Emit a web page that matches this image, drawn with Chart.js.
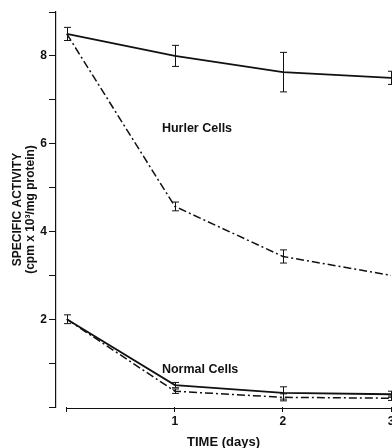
<!DOCTYPE html>
<html lang="en">
<head>
    <meta charset="UTF-8">
    <title>Specific activity vs time</title>
    <script src="https://cdn.jsdelivr.net/npm/chart.js"></script>
    <style>
        body {
            margin: 0;
            overflow: hidden;
            background: #fff;
        }

        .chart-box {
            width: 398px;
            height: 448px;
        }
    </style>
</head>
<body>

<div class="chart-box">
    <canvas id="myChart"></canvas>
</div>

<script>
    // values (days, cpm x 10^3 / mg protein)
    const days = [0, 1, 2, 3];
    const hurlerSolid = [8.5, 8.0, 7.63, 7.5];
    const hurlerSolidErr = [0.15, 0.24, 0.45, 0.15];
    const hurlerDash = [8.5, 4.57, 3.43, 3.0];
    const hurlerDashErr = [0, 0.1, 0.15, 0];
    const normalSolid = [2.0, 0.5, 0.32, 0.29];
    const normalSolidErr = [0.1, 0.06, 0.14, 0.07];
    const normalDash = [2.0, 0.36, 0.22, 0.2];
    const normalDashErr = [0, 0.05, 0.08, 0.05];
    const xTickLabels = ['', '1', '2', '3'];
    const yTickLabels = ['', '', '2', '', '4', '', '6', '', '8', ''];

    const family = '"Liberation Sans", Arial, sans-serif';
    const tickFont = { family: family, size: 12, weight: 'bold' };

    function points(ys) {
        return days.map((d, i) => ({ x: d, y: ys[i] }));
    }

    function series(ys, errs, dashed) {
        return {
            data: points(ys),
            errors: errs,
            borderColor: '#111',
            borderWidth: dashed ? 1.5 : 1.8,
            borderDash: dashed ? [8, 3, 2, 3] : [],
            pointRadius: 0,
            tension: 0,
            fill: false
        };
    }

    // error bars, x axis line and the two text labels
    const extras = {
        id: 'extras',
        afterDatasetsDraw(chart) {
            const c = chart.ctx;
            const xs = chart.scales.x;
            const ys = chart.scales.y;
            c.save();
            c.strokeStyle = '#111';
            c.lineWidth = 1;
            chart.data.datasets.forEach(ds => {
                ds.data.forEach((p, i) => {
                    const e = ds.errors[i];
                    if (!e) return;
                    const px = Math.round(xs.getPixelForValue(p.x)) + 0.5;
                    const top = ys.getPixelForValue(p.y + e);
                    const bot = ys.getPixelForValue(p.y - e);
                    c.beginPath();
                    c.moveTo(px, top);
                    c.lineTo(px, bot);
                    c.moveTo(px - 3.5, top);
                    c.lineTo(px + 3.5, top);
                    c.moveTo(px - 3.5, bot);
                    c.lineTo(px + 3.5, bot);
                    c.stroke();
                });
            });

            // x axis line only runs from day 0 to day 3
            const y0 = Math.round(ys.getPixelForValue(0)) + 1.5;
            c.lineWidth = 1.2;
            c.beginPath();
            c.moveTo(xs.getPixelForValue(0), y0);
            c.lineTo(xs.getPixelForValue(3), y0);
            c.stroke();

            c.fillStyle = '#111';
            c.font = 'bold 12.5px ' + family;
            c.textBaseline = 'middle';
            c.fillText('Hurler Cells', xs.getPixelForValue(0.88), ys.getPixelForValue(6.34));
            c.fillText('Normal Cells', xs.getPixelForValue(0.88), ys.getPixelForValue(0.85));
            c.restore();
        }
    };

    const ctx = document.getElementById('myChart').getContext('2d');

    new Chart(ctx, {
        type: 'line',
        data: {
            datasets: [
                series(hurlerSolid, hurlerSolidErr, false),
                series(hurlerDash, hurlerDashErr, true),
                series(normalSolid, normalSolidErr, false),
                series(normalDash, normalDashErr, true)
            ]
        },
        options: {
            responsive: true,
            maintainAspectRatio: false,
            animation: false,
            layout: { padding: { top: 12, right: 7 } },
            plugins: {
                legend: { display: false },
                tooltip: { enabled: false }
            },
            scales: {
                x: {
                    type: 'linear',
                    min: -0.1,
                    max: 3,
                    afterBuildTicks: s => { s.ticks = days.map(v => ({ value: v })); },
                    afterFit: s => { s.height = 41; },
                    border: { display: false },
                    grid: {
                        drawOnChartArea: false,
                        color: '#111',
                        tickLength: 5,
                        offset: false
                    },
                    ticks: {
                        color: '#111',
                        font: tickFont,
                        padding: 2,
                        maxRotation: 0,
                        callback: v => xTickLabels[days.indexOf(v)]
                    },
                    title: {
                        display: true,
                        text: 'TIME (days)',
                        color: '#111',
                        font: { family: family, size: 13, weight: 'bold' },
                        padding: { top: 0, bottom: -2 }
                    }
                },
                y: {
                    min: 0,
                    max: 9,
                    afterFit: s => { s.width = 56; },
                    border: { display: true, color: '#111', width: 1.2 },
                    grid: {
                        drawOnChartArea: false,
                        color: '#111',
                        tickLength: 7
                    },
                    ticks: {
                        stepSize: 1,
                        color: '#111',
                        font: tickFont,
                        padding: 2,
                        callback: v => yTickLabels[v]
                    },
                    title: {
                        display: true,
                        text: ['SPECIFIC ACTIVITY', '(cpm x 10\u00b3/mg protein)'],
                        color: '#111',
                        font: { family: family, size: 12, weight: 'bold', lineHeight: 1.1 },
                        padding: { top: 11, bottom: 0 }
                    }
                }
            }
        },
        plugins: [extras]
    });
</script>

</body>
</html>
